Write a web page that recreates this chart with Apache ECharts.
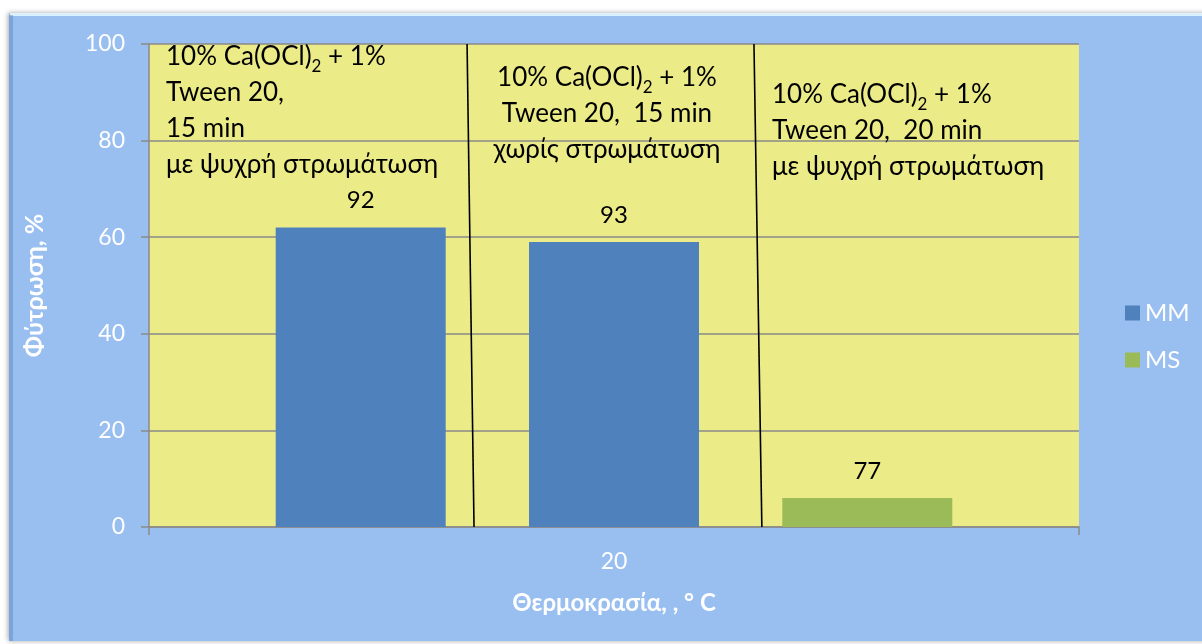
<!DOCTYPE html>
<html>
<head>
<meta charset="utf-8">
<script src="https://cdn.jsdelivr.net/npm/echarts@6/dist/echarts.min.js"></script>
<style>
  html, body { margin: 0; padding: 0; background: #ffffff; }
  #chart { width: 1202px; height: 644px; }
</style>
</head>
<body>
<div id="chart"></div>
<script>
const categories = ["20"];
const mmFirst = [62];
const mmSecond = [59];
const msValues = [6];
const barLabels = ["92", "93", "77"];
const yTicks = [0, 20, 40, 60, 80, 100];
// divider lines, in percent of the category width: [top, bottom]
const dividerA = [34.2, 34.95];
const dividerB = [65.05, 65.9];

const font = "Lato, 'Open Sans', sans-serif";
const white = "#ffffff";
const gridGray = "#8a8a8a";

const chart = echarts.init(document.getElementById("chart"), null, { renderer: "canvas" });

const noteStyle = (text, align) => ({
  text: text,
  fill: "#000",
  fontSize: 26,
  fontFamily: font,
  lineHeight: 36,
  align: align,
  rich: {
    sub: { fontSize: 17, lineHeight: 24, verticalAlign: "bottom", fontFamily: font, fill: "#000" },
  },
});

const barLabel = (i) => ({
  show: true,
  position: "top",
  distance: 15,
  color: "#000",
  fontSize: 24,
  fontFamily: font,
  formatter: () => barLabels[i],
});

chart.setOption({
  animation: false,
  backgroundColor: "transparent",
  textStyle: { fontFamily: font },
  graphic: [
    {
      type: "rect",
      z: -10,
      shape: { x: 9, y: 13, width: 1200, height: 628 },
      style: { fill: "#99bff0", shadowBlur: 5, shadowColor: "rgba(0,0,0,0.35)", shadowOffsetX: -1, shadowOffsetY: 0 },
    },
    {
      type: "line",
      z: -9,
      shape: { x1: 10, y1: 14.5, x2: 1202, y2: 14.5 },
      style: { stroke: "rgba(225,245,255,0.9)", lineWidth: 3 },
    },
    {
      type: "line",
      z: -9,
      shape: { x1: 11, y1: 15, x2: 11, y2: 641 },
      style: { stroke: "rgba(90,130,190,0.45)", lineWidth: 4 },
    },
    {
      type: "text",
      z: 100,
      left: 166,
      top: 39,
      style: noteStyle("10% Ca(OCl){sub|2} + 1%\nTween 20,\n15 min\nμε ψυχρή στρωμάτωση", "left"),
    },
    {
      type: "text",
      z: 100,
      x: 607,
      y: 60,
      style: noteStyle("10% Ca(OCl){sub|2} + 1%\nTween 20,  15 min\nχωρίς στρωμάτωση", "center"),
    },
    {
      type: "text",
      z: 100,
      left: 772,
      top: 77,
      style: noteStyle("10% Ca(OCl){sub|2} + 1%\nTween 20,  20 min\nμε ψυχρή στρωμάτωση", "left"),
    },
  ],
  legend: {
    data: ["MM", "MS"],
    orient: "vertical",
    left: 1120,
    top: 296,
    itemWidth: 15,
    itemHeight: 15,
    itemGap: 23,
    icon: "rect",
    textStyle: { color: white, fontSize: 24, fontFamily: font },
  },
  grid: {
    left: 149,
    right: 123,
    top: 44,
    bottom: 117,
    show: true,
    backgroundColor: "#ebeb88",
    borderWidth: 0,
  },
  xAxis: [
    {
      type: "category",
      data: categories,
      axisLine: { lineStyle: { color: gridGray, width: 1.5 } },
      axisTick: { show: true, length: 8, lineStyle: { color: gridGray, width: 1.5 } },
      axisLabel: { color: white, fontSize: 23, margin: 23 },
      name: "Θερμοκρασία, , ° C",
      nameLocation: "middle",
      nameGap: 64,
      nameTextStyle: { color: white, fontSize: 24, fontWeight: "bold" },
    },
    { type: "value", min: 0, max: 100, show: false },
  ],
  yAxis: {
    type: "value",
    min: yTicks[0],
    max: yTicks[yTicks.length - 1],
    interval: yTicks[1] - yTicks[0],
    axisLine: { show: true, lineStyle: { color: gridGray, width: 1.5 } },
    axisTick: { show: true, length: 8, lineStyle: { color: gridGray, width: 1.5 } },
    axisLabel: { color: white, fontSize: 23, margin: 24 },
    splitLine: { lineStyle: { color: gridGray, width: 1.5 } },
    name: "Φύτρωση, %",
    nameLocation: "middle",
    nameGap: 102,
    nameTextStyle: { color: white, fontSize: 25, fontWeight: "bold" },
  },
  series: [
    { name: "MM", type: "bar", data: mmFirst, barWidth: 170, barGap: "49%", itemStyle: { color: "#4f81bd" }, label: barLabel(0) },
    { name: "MM", type: "bar", data: mmSecond, barWidth: 170, barGap: "49%", itemStyle: { color: "#4f81bd" }, label: barLabel(1) },
    { name: "MS", type: "bar", data: msValues, barWidth: 170, barGap: "49%", itemStyle: { color: "#9bbb59" }, label: barLabel(2) },
    {
      name: "divA", type: "line", xAxisIndex: 1, symbol: "none", silent: true, z: 5,
      data: [[dividerA[0], 100], [dividerA[1], 0]],
      lineStyle: { color: "#000", width: 1.6 },
    },
    {
      name: "divB", type: "line", xAxisIndex: 1, symbol: "none", silent: true, z: 5,
      data: [[dividerB[0], 100], [dividerB[1], 0]],
      lineStyle: { color: "#000", width: 1.6 },
    },
  ],
});
</script>
</body>
</html>
